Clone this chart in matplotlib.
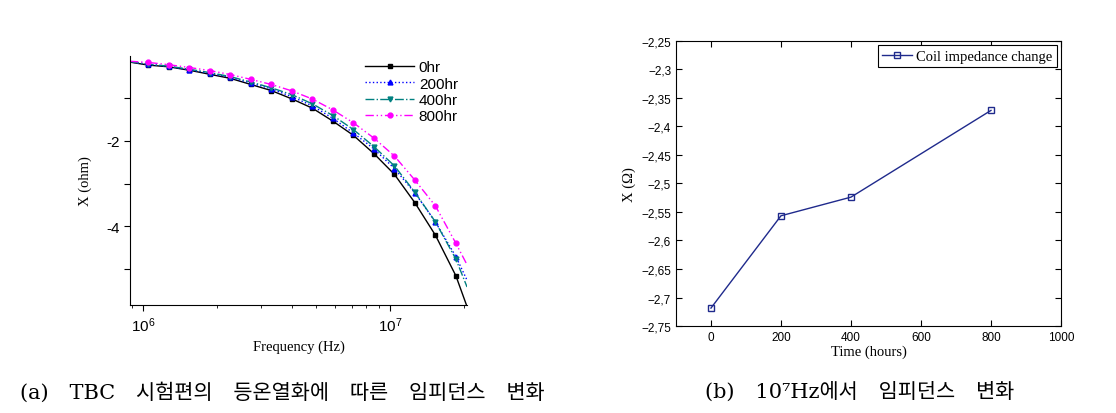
import numpy as np
import matplotlib
matplotlib.use("Agg")
import matplotlib.pyplot as plt
from matplotlib.ticker import MultipleLocator, FuncFormatter, LogLocator, NullFormatter

# (a) reactance vs frequency for each aging time
freq = [8.86e5, 1.051e6, 1.272e6, 1.540e6, 1.865e6, 2.258e6, 2.733e6, 3.309e6, 4.006e6,
        4.850e6, 5.871e6, 7.108e6, 8.605e6, 1.042e7, 1.261e7, 1.527e7, 1.848e7, 2.05e7]
x_0hr = [-0.16, -0.23, -0.27, -0.35, -0.445, -0.54, -0.683, -0.826, -1.02, -1.238,
         -1.54, -1.873, -2.30, -2.786, -3.45, -4.21, -5.16, -5.88]
x_200hr = [-0.155, -0.215, -0.262, -0.34, -0.421, -0.517, -0.65, -0.786, -0.969, -1.183,
           -1.476, -1.817, -2.19, -2.65, -3.22, -3.9, -4.71, -5.26]
x_400hr = [-0.15, -0.207, -0.255, -0.327, -0.405, -0.5, -0.626, -0.762, -0.921, -1.136,
           -1.41, -1.738, -2.135, -2.587, -3.206, -3.897, -4.77, -5.42]
x_800hr = [-0.14, -0.167, -0.221, -0.286, -0.357, -0.452, -0.564, -0.683, -0.833, -1.024,
           -1.279, -1.579, -1.937, -2.357, -2.921, -3.524, -4.40, -4.9]
labels_a = ["0hr", "200hr", "400hr", "800hr"]

# (b) reactance at 10^7 Hz vs time
hours = [0, 200, 400, 800]
x_at_10mhz = [-2.7185, -2.5567, -2.524, -2.372]

captions = ["(a)\u3000TBC\u3000시험편의\u3000등온열화에\u3000따른\u3000임피던스\u3000변화",
            "(b)\u300010\u2077Hz에서\u3000임피던스\u3000변화"]

fig = plt.figure(figsize=(11.16, 4.14), dpi=100)

# ---- left panel
ax1 = fig.add_axes([0.1165, 0.261, 0.302, 0.601])
marks = list(range(1, len(freq) - 1))
styles = [
    dict(color="black", ls="-", marker="s"),
    dict(color="#0000ff", ls=":", marker="^"),
    dict(color="#008080", ls="-.", marker="v"),
    dict(color="#ff00ff", ls=(0, (6, 2, 1, 2, 1, 2)), marker="o"),
]
for ys, lab, st in zip([x_0hr, x_200hr, x_400hr, x_800hr], labels_a, styles):
    ax1.plot(freq, ys, lw=1.0, ms=3.5, markevery=marks, label=lab, **st)

ax1.set_xscale("log")
ax1.set_xlim(8.86e5, 2.05e7)
ax1.set_ylim(-5.84, -0.02)
ax1.xaxis.set_major_locator(LogLocator(base=10, numticks=5))
ax1.xaxis.set_minor_locator(LogLocator(base=10, subs=np.arange(2, 10), numticks=10))
ax1.xaxis.set_minor_formatter(NullFormatter())
ax1.yaxis.set_major_locator(MultipleLocator(1))
ax1.yaxis.set_major_formatter(FuncFormatter(lambda v, p: f"{int(round(v))}" if round(v) % 2 == 0 else ""))
ax1.spines["top"].set_visible(False)
ax1.spines["right"].set_visible(False)
ax1.tick_params(labelsize=11, direction="out", length=4)
ax1.tick_params(which="minor", length=2.5)
for lbl in ax1.get_xticklabels() + ax1.get_yticklabels():
    lbl.set_family("Liberation Sans")
ax1.set_xlabel("Frequency (Hz)", family="Liberation Serif", fontsize=10.5, labelpad=4)
ax1.set_ylabel("X (ohm)", family="Liberation Serif", fontsize=10.5, labelpad=10)
leg1 = ax1.legend(loc="upper right", bbox_to_anchor=(1.0, 1.02), frameon=False,
                  prop={"family": "Liberation Sans", "size": 11}, handlelength=3.2,
                  handletextpad=0.3, labelspacing=0.15, borderaxespad=0.2)

# ---- right panel
ax2 = fig.add_axes([0.6057, 0.210, 0.345, 0.689])
ax2.plot(hours, x_at_10mhz, color="#1f2a8c", lw=1.0, marker="s", ms=5,
         mfc="none", mec="#1f2a8c", label="Coil impedance change")
ax2.set_xlim(-100, 1000)
ax2.set_ylim(-2.75, -2.25)
ax2.xaxis.set_major_locator(MultipleLocator(200))
ax2.yaxis.set_major_locator(MultipleLocator(0.05))
ax2.yaxis.set_major_formatter(FuncFormatter(lambda v, p: f"{v:g}".replace(".", ",").replace("-", "\u2212")))
ax2.tick_params(direction="in", top=True, right=True, labelsize=8.5, length=4)
for lbl in ax2.get_xticklabels() + ax2.get_yticklabels():
    lbl.set_family("Liberation Sans")
ax2.set_xlabel("Time (hours)", family="Liberation Serif", fontsize=10.5, labelpad=1)
ax2.set_ylabel("X (\u03a9)", family="Liberation Serif", fontsize=10.5, labelpad=4)
leg2 = ax2.legend(loc="upper right", fancybox=False, edgecolor="black", framealpha=1,
                  prop={"family": "Liberation Serif", "size": 10.5}, handlelength=2.0,
                  handletextpad=0.3, borderpad=0.3, borderaxespad=0.3)
leg2.get_frame().set_linewidth(0.8)

# ---- captions
cap_fam = ["DejaVu Serif", "Noto Sans CJK KR", "DejaVu Sans"]
fig.text(20 / 1116, 1 - 392 / 414, captions[0], family=cap_fam, fontsize=15, va="center", ha="left")
fig.text(705 / 1116, 1 - 392 / 414, captions[1], family=cap_fam, fontsize=15, va="center", ha="left")

fig.savefig("out.png", dpi=100)
